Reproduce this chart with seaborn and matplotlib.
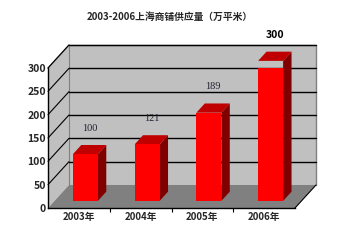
import matplotlib
matplotlib.use("Agg")
import matplotlib.pyplot as plt
from matplotlib.patches import Polygon
import seaborn as sns
import pandas as pd

years = ["2003年", "2004年", "2005年", "2006年"]
supply = [100, 121, 189, 300]
yticks = [0, 50, 100, 150, 200, 250, 300]
title = "2003-2006上海商铺供应量（万平米）"

sns.set_theme(style="white")
plt.rcParams['font.family'] = ['Liberation Sans Narrow', 'Noto Sans CJK SC', 'DejaVu Sans']

W, H = 348, 245
fig = plt.figure(figsize=(W / 100, H / 100), dpi=100)
fig.patch.set_facecolor("white")
# front plane of the plot: x 48..295 px, y 208 (0) .. 68 (300)
ax = fig.add_axes([48 / W, (H - 208) / H, 247 / W, 140 / H])
ax.set_facecolor("none")

df = pd.DataFrame({"year": years, "supply": supply})
sns.barplot(data=df, x="year", y="supply", color="#ff0000", saturation=1,
            width=0.405, ax=ax, zorder=5, linewidth=0)

ax.set_xlim(-0.5, 3.5)
ax.set_ylim(0, 300)

# depth of the 3D box in data units
DX, DY = 0.34, 49.3
wall_kw = dict(clip_on=False, zorder=0, linewidth=0)
x0, x1 = ax.get_xlim()
y0, y1 = ax.get_ylim()
ax.add_patch(Polygon([(x0 + DX, y0 + DY), (x1 + DX, y0 + DY), (x1 + DX, y1 + DY), (x0 + DX, y1 + DY)],
                     facecolor="#c0c0c0", **wall_kw))
ax.add_patch(Polygon([(x0, y0), (x0, y1), (x0 + DX, y1 + DY), (x0 + DX, y0 + DY)],
                     facecolor="#c0c0c0", **wall_kw))
ax.add_patch(Polygon([(x0, y0), (x1, y0), (x1 + DX, y0 + DY), (x0 + DX, y0 + DY)],
                     facecolor="#808080", **wall_kw))
# wall outline
ax.plot([x0 + DX, x1 + DX, x1 + DX], [y1 + DY, y1 + DY, y0 + DY], color="#808080",
        lw=1, clip_on=False, zorder=1)
ax.plot([x0, x0 + DX], [y1, y1 + DY], color="#808080", lw=1, clip_on=False, zorder=1)
ax.plot([x1, x1 + DX], [y0, y0 + DY], color="black", lw=0.8, clip_on=False, zorder=1)
ax.plot([x0 + DX, x0 + DX], [y0 + DY, y1 + DY], color="#808080", lw=0.8, clip_on=False, zorder=1)
for v in yticks[1:]:
    ax.plot([x0 + DX, x1 + DX], [v + DY, v + DY], color="black", lw=1, clip_on=False, zorder=2)
    ax.plot([x0, x0 + DX], [v, v + DY], color="black", lw=0.8, clip_on=False, zorder=2)

# 3D bars: shift front faces into the box and add side/top faces
fx, fy = 0.31 * DX, 0.31 * DY
bx, by = 0.40 * DX, 0.40 * DY
for p, val in zip(ax.patches[:len(supply)], supply):
    p.set_x(p.get_x() + fx)
    p.set_y(p.get_y() + fy)
    xl = p.get_x()
    xr = xl + p.get_width()
    yb = p.get_y()
    yt = yb + p.get_height()
    ax.add_patch(Polygon([(xr, yb), (xr + bx, yb + by), (xr + bx, yt + by), (xr, yt)],
                         facecolor="#800000", linewidth=0, zorder=4, clip_on=False))
    ax.add_patch(Polygon([(xl, yt), (xr, yt), (xr + bx, yt + by), (xl + bx, yt + by)],
                         facecolor="#c00000", linewidth=0, zorder=4, clip_on=False))
    bold = val == max(supply)
    ax.annotate(str(val), (xl + p.get_width() / 2 + bx / 2, yt + by), xytext=(0, 12),
                textcoords="offset points", ha="center", va="center",
                fontsize=7.5, fontweight="bold" if bold else "normal",
                color="black" if bold else "#222233",
                family=["Liberation Serif", "DejaVu Serif"] if not bold else None,
                annotation_clip=False, zorder=6)

# axes styling
for s in ["top", "right"]:
    ax.spines[s].set_visible(False)
for s in ["left", "bottom"]:
    ax.spines[s].set_color("black")
    ax.spines[s].set_linewidth(1)
    ax.spines[s].set_zorder(7)
ax.set_yticks(yticks)
ax.set_yticklabels([str(v) for v in yticks], fontweight="bold", fontsize=7.5)
ax.set_xticks(range(len(years)))
ax.set_xticklabels(years, fontweight="bold", fontsize=7)
ax.set_xticks([0.5, 1.5, 2.5], minor=True)
ax.tick_params(axis="x", which="major", length=0, pad=3)
ax.tick_params(axis="x", which="minor", length=3, width=0.8, color="black", direction="out", bottom=True)
ax.tick_params(axis="y", length=0, pad=1.5)
ax.set_xlabel("")
ax.set_ylabel("")
ax.grid(False)

fig.text(170 / W, 1 - 17 / H, title, ha="center", va="center", fontsize=7, fontweight="bold")

fig.savefig("out.png", dpi=100)
